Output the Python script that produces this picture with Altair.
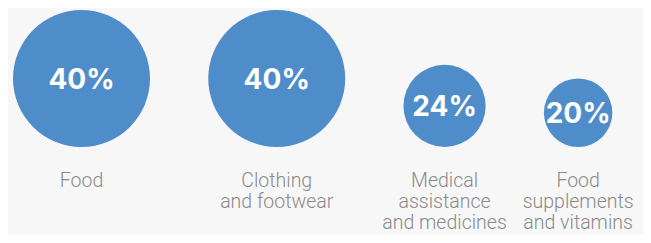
import altair as alt
import pandas as pd

categories = [
    "Food",
    "Clothing\nand footwear",
    "Medical\nassistance\nand medicines",
    "Food\nsupplements\nand vitamins",
]
shares = [40, 40, 24, 20]
pct_labels = ["40%", "40%", "24%", "20%"]

df = pd.DataFrame({
    "order": list(range(len(categories))),
    "category": categories,
    "share": shares,
    "pct": pct_labels,
})

W, H = 635, 227
K = 137 / 40.0          # pixels per share unit (circle diameter scale)
GAP = 17                # gap between circles, in share units
LEFT = 5                # left offset of first circle, px
BOTTOM = 139            # common bottom line of the circles, px

x_scale = alt.Scale(domain=[-LEFT / K, (W - LEFT) / K], nice=False, zero=False)
y_scale = alt.Scale(domain=[-(H - BOTTOM) / K, BOTTOM / K], nice=False, zero=False)
size_scale = alt.Scale(type="pow", exponent=2, domain=[0, 40], range=[0, 137 ** 2])

base = alt.Chart(df).transform_window(
    cum="sum(share)", frame=[None, 0], sort=[alt.SortField("order")]
).transform_calculate(
    xc=f"datum.cum - datum.share / 2 + {GAP} * datum.order",
    yc="datum.share / 2",
)

X = alt.X("xc:Q", scale=x_scale, axis=None)
Y = alt.Y("yc:Q", scale=y_scale, axis=None)

circles = base.mark_circle(color="#4f8dca", opacity=1).encode(
    x=X, y=Y, size=alt.Size("share:Q", scale=size_scale, legend=None)
)

pct = base.mark_text(
    color="white", font="Inter", fontWeight="bold", fontSize=28,
    baseline="alphabetic", dy=10,
).encode(x=X, y=Y, text="pct:N")

labels = base.mark_text(
    font="Roboto", fontWeight=300, fontSize=19.5, color="#8a8a8a",
    lineBreak="\n", lineHeight=21, baseline="alphabetic",
).encode(x=X, y=alt.value(179), text="category:N")

chart = alt.layer(circles, pct, labels).properties(
    width=W, height=H,
    autosize=alt.AutoSizeParams(type="none"),
    padding=0,
    background="#f7f7f7",
).configure_view(stroke=None)

chart.save("out.html", embed_options={"renderer": "svg", "actions": False})
